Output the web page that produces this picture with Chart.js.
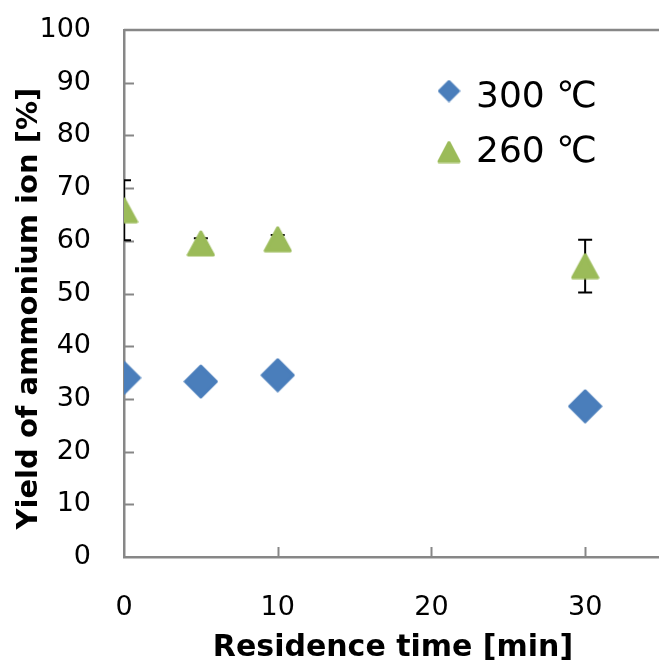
<!DOCTYPE html>
<html>
<head>
<meta charset="utf-8">
<script src="https://cdn.jsdelivr.net/npm/chart.js@4.4.0/dist/chart.umd.min.js"></script>
<style>
  html, body { margin: 0; padding: 0; overflow: hidden; background: #fff; }
</style>
</head>
<body>
<canvas id="graficoRendimento" width="680" height="666"></canvas>
<script>
// dados
const tempos = [0, 5, 10, 30];
const rend300 = [34.0, 33.3, 34.5, 28.6];
const rend260 = [65.8, 59.5, 60.3, 55.2];
const erro260 = [5.7, 1.0, 0.8, 5.0];
const nomes = ['300 ℃', '260 ℃'];
const ticksX = [0, 10, 20, 30];
const ticksY = [0, 10, 20, 30, 40, 50, 60, 70, 80, 90, 100];

const corAzul = '#4A7EBB';
const corVerde = '#9BBB59';
const corEixo = '#878787';

Chart.defaults.font.family = "'DejaVu Sans', sans-serif";
Chart.defaults.color = '#000';

// marcadores tipo Excel (cantos arredondados, centrados na caixa)
function marcador(forma, cor, w, h) {
    let c = document.createElement('canvas');
    c.width = w;
    c.height = h;
    let g = c.getContext('2d');
    g.fillStyle = cor;
    g.strokeStyle = cor;
    g.lineWidth = 3;
    g.lineJoin = 'round';
    g.beginPath();
    if (forma === 'losango') {
        g.moveTo(w / 2, 2);
        g.lineTo(w - 2, h / 2);
        g.lineTo(w / 2, h - 2);
        g.lineTo(2, h / 2);
    } else {
        g.moveTo(w / 2, 2);
        g.lineTo(w - 2, h - 2);
        g.lineTo(2, h - 2);
    }
    g.closePath();
    g.fill();
    g.stroke();
    return c;
}

const losango = marcador('losango', corAzul, 35, 35);
const triangulo = marcador('triangulo', corVerde, 29, 27);
const losangoLeg = marcador('losango', corAzul, 23, 23);
const trianguloLeg = marcador('triangulo', corVerde, 24, 23);

// barras de erro + marcas internas dos eixos
const extras = {
    id: 'extras',
    beforeDatasetsDraw: function(chart) {
        let ctx = chart.ctx;
        let a = chart.chartArea;
        let sx = chart.scales.x;
        let sy = chart.scales.y;

        ctx.save();
        ctx.strokeStyle = corEixo;
        ctx.lineWidth = 2.5;
        ctx.beginPath();
        ctx.moveTo(a.left, a.top);
        ctx.lineTo(a.right, a.top);
        ctx.lineTo(a.right, a.bottom);
        ctx.stroke();

        ctx.lineWidth = 2;
        ctx.beginPath();
        ticksY.slice(1, -1).forEach(function(v) {
            let y = Math.round(sy.getPixelForValue(v)) + 0.5;
            ctx.moveTo(a.left, y);
            ctx.lineTo(a.left + 10, y);
        });
        ticksX.slice(1).forEach(function(v) {
            let x = Math.round(sx.getPixelForValue(v)) + 0.5;
            ctx.moveTo(x, a.bottom);
            ctx.lineTo(x, a.bottom - 10);
        });
        ctx.stroke();

        ctx.beginPath();
        ctx.rect(a.left, a.top, a.right - a.left, a.bottom - a.top);
        ctx.clip();
        ctx.strokeStyle = '#000';
        ctx.lineWidth = 2;
        ctx.beginPath();
        tempos.forEach(function(t, i) {
            let x = sx.getPixelForValue(t);
            let y1 = sy.getPixelForValue(rend260[i] + erro260[i]);
            let y2 = sy.getPixelForValue(rend260[i] - erro260[i]);
            ctx.moveTo(x, y1);
            ctx.lineTo(x, y2);
            ctx.moveTo(x - 7, y1);
            ctx.lineTo(x + 7, y1);
            ctx.moveTo(x - 7, y2);
            ctx.lineTo(x + 7, y2);
        });
        ctx.stroke();
        ctx.restore();
    },
    afterDraw: function(chart) {
        let ctx = chart.ctx;
        let itens = [
            { img: losangoLeg, y: 91, base: 107 },
            { img: trianguloLeg, y: 152, base: 162 }
        ];
        ctx.save();
        ctx.font = "36px 'DejaVu Sans'";
        ctx.fillStyle = '#000';
        ctx.textBaseline = 'alphabetic';
        itens.forEach(function(it, i) {
            ctx.drawImage(it.img, 449 - it.img.width / 2, it.y - it.img.height / 2);
            ctx.fillText(nomes[i], 476, it.base);
        });
        ctx.restore();
    }
};

let ctx = document.getElementById('graficoRendimento');

new Chart(ctx, {
    type: 'scatter',
    data: {
        datasets: [
            {
                label: nomes[0],
                data: tempos.map((t, i) => ({ x: t, y: rend300[i] })),
                pointStyle: losango,
                pointRadius: 17,
                backgroundColor: corAzul,
                borderColor: corAzul,
                showLine: false
            },
            {
                label: nomes[1],
                data: tempos.map((t, i) => ({ x: t, y: rend260[i] })),
                pointStyle: triangulo,
                pointRadius: 15,
                backgroundColor: corVerde,
                borderColor: corVerde,
                showLine: false
            }
        ]
    },
    options: {
        responsive: false,
        animation: false,
        devicePixelRatio: 1,
        layout: { padding: { top: 30, right: 12, left: 0, bottom: 0 } },
        plugins: {
            legend: { display: false },
            tooltip: { enabled: false }
        },
        scales: {
            x: {
                type: 'linear',
                min: 0,
                max: 35,
                afterBuildTicks: s => { s.ticks = ticksX.map(v => ({ value: v })); },
                afterFit: s => { s.height = 109; s.paddingLeft = 0; s.paddingRight = 0; },
                grid: { display: false, drawTicks: false },
                border: { display: true, color: corEixo, width: 2.5 },
                ticks: { padding: 35, font: { size: 27 }, maxRotation: 0, autoSkip: false },
                title: {
                    display: true,
                    text: 'Residence time [min]',
                    font: { size: 30, weight: 'bold' },
                    padding: { top: 0, bottom: 0 }
                }
            },
            y: {
                min: 0,
                max: 100,
                afterBuildTicks: s => { s.ticks = ticksY.map(v => ({ value: v })); },
                afterFit: s => { s.width = 124; s.paddingTop = 0; s.paddingBottom = 0; },
                grid: { display: false, drawTicks: false },
                border: { display: true, color: corEixo, width: 2.5 },
                ticks: { padding: 33, font: { size: 27 }, autoSkip: false },
                title: {
                    display: true,
                    text: 'Yield of ammonium ion [%]   ',
                    font: { size: 29, weight: 'bold' },
                    padding: { top: 12, bottom: 0 }
                }
            }
        }
    },
    plugins: [extras]
});
</script>
</body>
</html>
